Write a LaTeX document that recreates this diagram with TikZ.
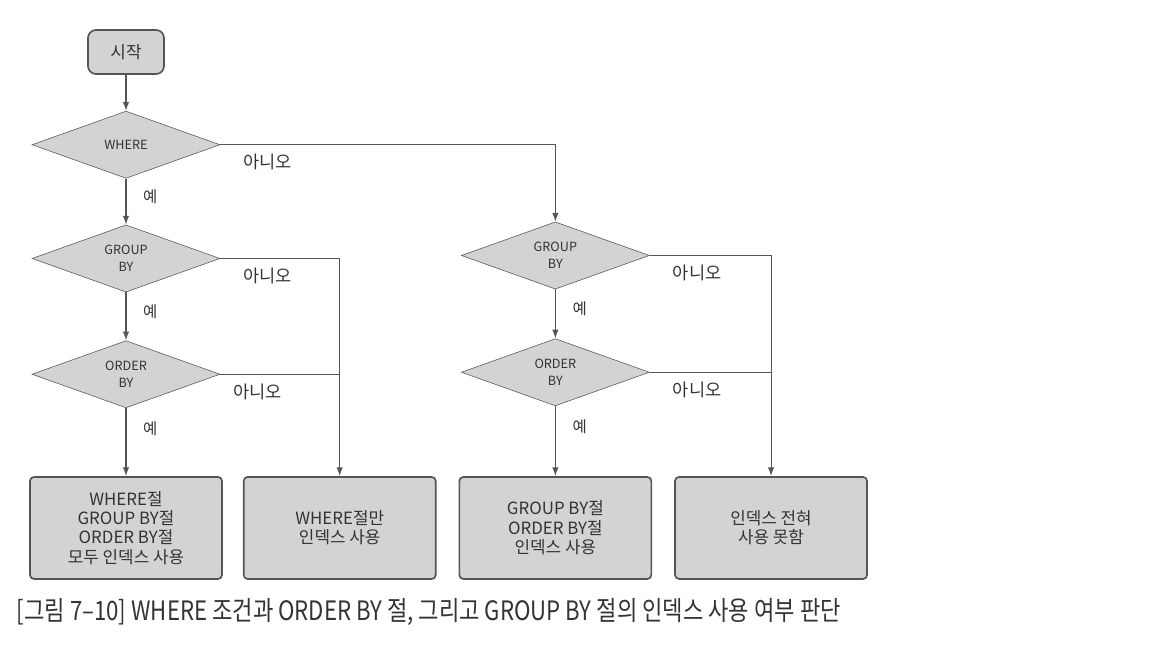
\documentclass[tikz,border=0pt]{standalone}
\usepackage{fontspec}
\setmainfont{Noto Sans CJK KR}
\newfontfamily\capfont[FakeStretch=0.83]{Noto Sans CJK KR}
\usetikzlibrary{positioning}
\usetikzlibrary{shapes.geometric}
\usetikzlibrary{arrows.meta, calc}
\definecolor{boxgray}{HTML}{D3D3D3}
\definecolor{linegray}{HTML}{555555}
\definecolor{textgray}{HTML}{333333}

\begin{document}
\begin{tikzpicture}
  [
    node distance=1cm,
    every node/.style={font=\fontsize{12}{13.8}\selectfont, text=textgray},
    align=center
  ]
      \tikzset{
        >={Latex[width=1.6mm,length=2.2mm]},
        base/.style = {draw=linegray, fill=boxgray, text centered},
        startstyle/.style = {base, rectangle, rounded corners=2mm, line width=1.2pt,
                             minimum width=1.9cm, minimum height=1.1cm},
        decisionstyle/.style = {base, diamond, aspect=2.8, inner sep=1pt,
                                minimum width=4.7cm, minimum height=1.68cm,
                                font=\fontsize{9}{12.5}\selectfont},
        resultstyle/.style = {base, rectangle, rounded corners=1mm, line width=1.2pt,
                              minimum width=4.8cm, minimum height=2.55cm},
        flowstyle/.style = {->, draw=linegray, thick},
        yesstyle/.style = {right, xshift=0.3cm, font=\fontsize{11}{12}\selectfont},
        nostyle/.style = {anchor=north west, xshift=0.45cm, yshift=-0.1cm,
                          font=\fontsize{12.5}{14}\selectfont},
    }
    \useasboundingbox (0,0) rectangle (29,-16.25);

    \node (start) [startstyle] at (3.15,-1.3) {시작};
    \node (where) [decisionstyle, below=0.9cm of start] {WHERE};
    \node (groupL) [decisionstyle, below=1.15cm of where] {GROUP\\BY};
    \node (orderL) [decisionstyle, below=1.2cm of groupL] {ORDER\\BY};

    \node (allidx) [resultstyle, below=1.7cm of orderL] {WHERE절\\GROUP BY절\\ORDER BY절\\모두 인덱스 사용};
    \node (whereidx) [resultstyle, right=0.5cm of allidx] {WHERE절만\\인덱스 사용};
    \node (grpidx) [resultstyle, right=0.55cm of whereidx] {GROUP BY절\\ORDER BY절\\인덱스 사용};
    \node (noidx) [resultstyle, right=0.55cm of grpidx] {인덱스 전혀\\사용 못함};

    \node (orderR) [decisionstyle, above=1.75cm of grpidx] {ORDER\\BY};
    \node (groupR) [decisionstyle, above=1.225cm of orderR] {GROUP\\BY};

    % yes branches
    \draw[flowstyle] (start) -- (where);
    \draw[flowstyle] (where) -- (groupL) node[yesstyle, pos=0.4]{예};
    \draw[flowstyle] (groupL) -- (orderL) node[yesstyle, pos=0.4]{예};
    \draw[flowstyle] (orderL) -- (allidx) node[yesstyle, pos=0.3]{예};
    \draw[flowstyle] (groupR) -- (orderR) node[yesstyle, pos=0.4]{예};
    \draw[flowstyle] (orderR) -- (grpidx) node[yesstyle, pos=0.3]{예};

    % no branches
    \draw[flowstyle] (where.east) -| (groupR.north) node[nostyle, pos=0]{아니오};
    \draw[flowstyle] (groupL.east) -| (whereidx.north) node[nostyle, pos=0]{아니오};
    \draw[draw=linegray, thick] (orderL.east) -- (orderL.east -| whereidx.north) node[nostyle, pos=0, xshift=-0.25cm]{아니오};
    \draw[flowstyle] (groupR.east) -| (noidx.north) node[nostyle, pos=0]{아니오};
    \draw[draw=linegray, thick] (orderR.east) -- (orderR.east -| noidx.north) node[nostyle, pos=0]{아니오};

    \node (caption) [anchor=west, font=\capfont\fontsize{19}{22}\selectfont, text=black!80]
      at (0.3,-15.3) {[그림 7–10] WHERE 조건과 ORDER BY 절, 그리고 GROUP BY 절의 인덱스 사용 여부 판단};
\end{tikzpicture}
\end{document}
